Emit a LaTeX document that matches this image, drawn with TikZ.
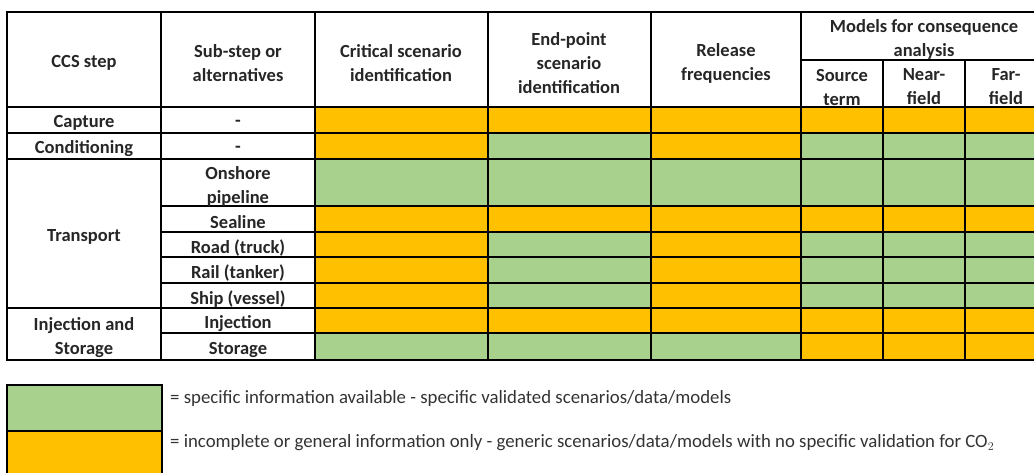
\documentclass[tikz,border=0pt]{standalone}
\usepackage{fontspec}
\setmainfont{Carlito}
\usepackage{tikz}
\usetikzlibrary{positioning}

\definecolor{okgreen}{HTML}{A9D18E}
\definecolor{partorange}{HTML}{FFC000}

\begin{document}
\begin{tikzpicture}[
		x=1pt, y=-1pt,
		grid/.style={line width=2.6pt, black},
		head/.style={font=\fontsize{18.5}{24}\selectfont\bfseries, align=center, inner sep=0pt, text=black!85, yshift=-3pt},
		cell/.style={font=\fontsize{18.5}{24}\selectfont\bfseries, align=center, inner sep=0pt, text=black!85, yshift=-3pt},
		legend_text/.style={font=\fontsize{18.8}{22}\selectfont, anchor=west, inner sep=0pt, text=black!80}
		]
		
		\useasboundingbox (0,0) rectangle (1034,472);
		\clip (0,0) rectangle (1034,472);
		
		% Coloured cells
		\fill[partorange] (315,107) rectangle (1047,133);
		\fill[partorange] (315,133) rectangle (488,159);
		\fill[okgreen] (488,133) rectangle (651,159);
		\fill[partorange] (651,133) rectangle (801,159);
		\fill[okgreen] (801,133) rectangle (1047,159);
		\fill[okgreen] (315,159) rectangle (1047,206);
		\fill[partorange] (315,206) rectangle (1047,232);
		\fill[partorange] (315,232) rectangle (488,308);
		\fill[okgreen] (488,232) rectangle (651,308);
		\fill[partorange] (651,232) rectangle (801,308);
		\fill[okgreen] (801,232) rectangle (1047,308);
		\fill[partorange] (315,308) rectangle (1047,333);
		\fill[okgreen] (315,333) rectangle (801,360);
		\fill[partorange] (801,333) rectangle (1047,360);
		
		% Table rules
		\draw[grid] (7,12) rectangle (1047,360);
		\draw[grid] (161,12) -- (161,360);
		\draw[grid] (315,12) -- (315,360);
		\draw[grid] (488,12) -- (488,360);
		\draw[grid] (651,12) -- (651,360);
		\draw[grid] (801,12) -- (801,360);
		\draw[grid] (883,60) -- (883,360);
		\draw[grid] (965,60) -- (965,360);
		\draw[grid] (801,60) -- (1047,60);
		\draw[grid] (7,107) -- (1047,107);
		\draw[grid] (7,133) -- (1047,133);
		\draw[grid] (7,159) -- (1047,159);
		\draw[grid] (161,206) -- (1047,206);
		\draw[grid] (161,232) -- (1047,232);
		\draw[grid] (161,257) -- (1047,257);
		\draw[grid] (161,283) -- (1047,283);
		\draw[grid] (7,308) -- (1047,308);
		\draw[grid] (161,333) -- (1047,333);
		
		% Header row
		\node[head] (h_step) at (84,60) {CCS step};
		\node[head] (h_sub) at (238,60) {Sub-step or\\alternatives};
		\node[head] (h_crit) at (401,60) {Critical scenario\\identification};
		\node[head] (h_end) at (569,60) {End-point\\scenario\\identification};
		\node[head] (h_freq) at (726,60) {Release\\frequencies};
		\node[head] (h_models) at (924,36) {Models for consequence\\analysis};
		\node[head] (h_source) at (842,84) {Source\\term};
		\node[head] (h_near) at (924,84) {Near-\\field};
		\node[head] (h_far) at (1006,84) {Far-\\field};
		
		% CCS steps
		\node[cell] (capture) at (84,120) {Capture};
		\node[cell] (cond) at (84,146) {Conditioning};
		\node[cell] (transport) at (84,234) {Transport};
		\node[cell] (injstor) at (84,335) {Injection and\\Storage};
		
		% Sub-steps
		\node[cell] (capture_sub) at (238,120) {-};
		\node[cell] (cond_sub) at (238,146) {-};
		\node[cell] (onshore) at (238,183) {Onshore\\pipeline};
		\node[cell] (sealine) at (238,219) {Sealine};
		\node[cell] (road) at (238,245) {Road (truck)};
		\node[cell] (rail) at (238,270) {Rail (tanker)};
		\node[cell] (ship) at (238,296) {Ship (vessel)};
		\node[cell] (injection) at (238,321) {Injection};
		\node[cell] (storage) at (238,347) {Storage};
		
		% Legend
		\fill[okgreen] (7,385) rectangle (162,431);
		\fill[partorange] (7,431) rectangle (162,480);
		\draw[grid] (7,385) rectangle (162,480);
		\draw[grid] (7,431) -- (162,431);
		\node[legend_text] (leg_green) at (170,398) {= specific information available - specific validated scenarios/data/models};
		\node[legend_text] (leg_orange) at (170,443) {= incomplete or general information only - generic scenarios/data/models with no specific validation for CO$_2$};
		
	\end{tikzpicture}
\end{document}
